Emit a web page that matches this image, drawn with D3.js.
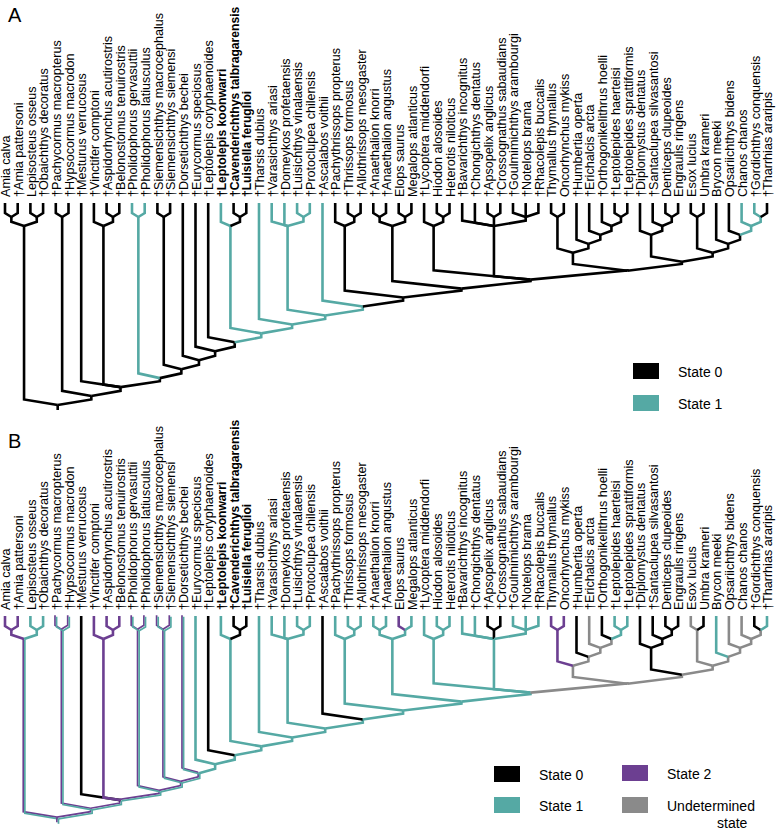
<!DOCTYPE html>
<html><head><meta charset="utf-8">
<script src="https://cdn.jsdelivr.net/npm/d3@7"></script>
<style>body{margin:0;background:#fff}svg{display:block}</style>
</head><body><svg id="c" width="778" height="830"></svg>
<script>
// ---------------- DATA ----------------
const taxa = [
  "Amia calva","†Amia pattersoni","Lepisosteus osseus","†Obaichthys decoratus",
  "†Pachycormus macropterus","†Hypsocormus macrodon","†Mesturus verrucosus","†Vinctifer comptoni",
  "†Aspidorhynchus acutirostris","†Belonostomus tenuirostris","†Pholidophorus gervasuttii","†Pholidophorus latiusculus",
  "†Siemensichthys macrocephalus","†Siemensichthys siemensi","†Dorsetichthys bechei","†Eurycormus speciosus",
  "†Leptolepis coryphaenoides","†Leptolepis koonwarri","†Cavenderichthys talbragarensis","†Luisiella feruglioi",
  "†Tharsis dubius","†Varasichthys ariasi","†Domeykos profetaensis","†Luisichthys vinalaensis",
  "†Protoclupea chilensis","†Ascalabos voithii","†Pachythrissops propterus","†Thrissops formosus",
  "†Allothrissops mesogaster","†Anaethalion knorri","†Anaethalion angustus","Elops saurus",
  "Megalops atlanticus","†Lycoptera middendorfi","Hiodon alosoides","Heterotis niloticus",
  "†Bavarichthys incognitus","†Chongichthys dentatus","†Apsopelix anglicus","†Crossognathus sabaudians",
  "†Goulmimichthys arambourgi","†Notelops brama","†Rhacolepis buccalis","Thymallus thymallus",
  "Oncorhynchus mykiss","†Humbertia operta","†Erichalcis arcta","†Orthogonikelithrus hoelli",
  "†Leptolepides haerteisi","†Leptolepides sprattiformis","†Diplomystus dentatus","†Santaclupea silvasantosi",
  "Denticeps clupeoides","Engraulis ringens","Esox lucius","Umbra krameri",
  "Brycon meeki","Opsariichthys bidens","Chanos chanos","†Gordichthys conquensis","†Tharrhias araripis"
];
const boldTaxa = [18, 19, 20];

// topology (tip numbers, 1-based), built clade by clade
const cladeE1 = [[44,45],[46,[47,[48,[49,50]]]]];
const cladeE2 = [[51,[52,[53,54]]],[[55,56],[57,[58,[59,[60,61]]]]]];
const cladeT  = [[34,[35,36]],[37,38,[39,40],[41,42,43]],[cladeE1, cladeE2]];
const cladeU  = [[[30,31],[32,33]], cladeT];
const cladeW  = [[27,[28,29]], cladeU];
const cladeV  = [26, cladeW];
const cladeX  = [[22,23,[24,25]], cladeV];
const cladeY  = [21, cladeX];
const cladeZ  = [[18,[19,20]], cladeY];
const clade17 = [17, cladeZ];
const clade16 = [16, clade17];
const clade15 = [15, clade16];
const clade13 = [[13,14], clade15];
const clade11 = [[11,12], clade13];
const cladeM  = [7, [8,[9,10]], clade11];
const cladeP  = [[5,6], cladeM];
const treeRoot = [[[1,2],[3,4]], cladeP];

// branch states (key = first-last tip of clade); "12" = state 1 or 2, "u" = undetermined
const defaultStateA = "0";
const statesA = [
  ["11-11","1"],["12-12","1"],["11-12","1"],
  ["18-18","1"],["18-20","1"],["18-61","1"],
  ["21-21","1"],["21-61","1"],
  ["22-22","1"],["23-23","1"],["24-24","1"],["25-25","1"],["24-25","1"],["22-25","1"],["22-61","1"],
  ["26-26","1"],["26-61","1"],
  ["59-59","1"],["60-60","1"],["60-61","1"],["59-61","1"]
];
const defaultStateB = "1";
const statesB = [
  ["1-61","12"],["1-4","12"],["1-1","2"],["2-2","2"],["1-2","2"],
  ["5-5","12"],["6-6","12"],["5-6","12"],["5-61","12"],
  ["7-7","0"],["8-8","2"],["9-9","2"],["10-10","2"],["9-10","2"],["8-10","2"],["7-61","12"],
  ["11-11","12"],["12-12","12"],["11-12","12"],["11-61","12"],
  ["13-13","12"],["14-14","12"],["13-14","12"],["13-61","12"],
  ["15-15","12"],["15-61","12"],
  ["17-17","0"],["19-19","0"],["20-20","0"],["19-20","0"],
  ["26-26","0"],["32-32","2"],
  ["39-39","0"],["40-40","0"],["39-40","0"],
  ["44-61","u"],["44-50","u"],["44-44","2"],["45-45","2"],["44-45","2"],
  ["46-46","0"],["46-50","u"],["47-47","u"],["47-50","u"],["48-48","0"],["48-50","u"],
  ["51-51","0"],["52-52","0"],["53-53","0"],["54-54","0"],["53-54","0"],["52-54","0"],["51-54","0"],
  ["51-61","u"],["55-61","u"],["55-56","u"],["55-55","u"],["56-56","0"],
  ["57-61","u"],["58-58","u"],["58-61","u"],["59-59","u"],["59-61","u"],["60-61","u"],["60-60","0"]
];
const legendA = [["0","State 0"],["1","State 1"]];
const legendB = [["0","State 0"],["1","State 1"],["2","State 2"],["u","Undetermined|state"]];

// ---------------- DRAWING ----------------
const svg = d3.select("#c");
const font = "'Liberation Sans', Arial, Helvetica, sans-serif";
const colors = {"0":"#000000","1":"#55a9a4","2":"#6c3f91","u":"#8a8a8a"};
const LW = 2.6;

const xScale = d3.scalePoint().domain(taxa).range([5, 767]);

const root = d3.hierarchy(treeRoot, d => Array.isArray(d) ? d : null);
root.eachAfter(n => {
  if (!n.children) { n.lo = n.hi = n.data; n.px = xScale(taxa[n.data - 1]); }
  else {
    const f = n.children[0], l = n.children[n.children.length - 1];
    n.lo = f.lo; n.hi = l.hi; n.px = (f.px + l.px) / 2;
  }
  n.key = n.lo + "-" + n.hi;
});

function drawSeg(g, d, st) {
  if (st === "12") {
    g.append("path").attr("d", d).attr("fill","none").attr("stroke", colors["2"])
      .attr("stroke-width", 1.7).attr("transform","translate(-0.8,-0.8)");
    g.append("path").attr("d", d).attr("fill","none").attr("stroke", colors["1"])
      .attr("stroke-width", 1.7).attr("transform","translate(0.8,0.8)");
  } else {
    g.append("path").attr("d", d).attr("fill","none").attr("stroke", colors[st])
      .attr("stroke-width", LW);
  }
}

function drawPanel(cfg) {
  const g = svg.append("g");
  const yS = d3.scaleLinear().domain([1, 22]).range([217 + cfg.dy, 405 + cfg.dy]);
  const tipTop = 203 + cfg.dy;
  const stMap = new Map(cfg.states);
  root.each(n => { n.py = n.children ? yS(n.height) : tipTop; });
  const lines = g.append("g").attr("stroke-linejoin","miter").attr("stroke-linecap","butt");
  root.descendants().forEach(c => {
    if (!c.parent) return;
    const p = c.parent;
    const dx = c.px - p.px;
    const same = p.children.filter(k => Math.sign(k.px - p.px) === Math.sign(dx));
    const maxDx = d3.max(same, k => Math.abs(k.px - p.px));
    const sOut = 3.5 + 0.06 * maxDx;
    const bend = maxDx > 0 ? p.py - sOut * Math.abs(dx) / maxDx : p.py;
    const path = d3.path();
    path.moveTo(c.px, c.py); path.lineTo(c.px, bend); path.lineTo(p.px, p.py);
    drawSeg(lines, path.toString(), stMap.get(c.key) || cfg.def);
  });
  const rp = d3.path(); rp.moveTo(root.px, root.py); rp.lineTo(root.px, root.py + 5);
  drawSeg(lines, rp.toString(), stMap.get(root.key) || cfg.def);

  // tip labels
  g.append("g").selectAll("text").data(taxa).join("text")
    .attr("transform", d => `translate(${xScale(d)},${197 + cfg.dy}) rotate(-90)`)
    .attr("dy", "0.42em")
    .attr("font-family", font)
    .attr("font-size", (d, i) => boldTaxa.includes(i + 1) ? 12.1 : 12.6)
    .attr("font-weight", (d, i) => boldTaxa.includes(i + 1) ? "bold" : "normal")
    .attr("fill", "#000")
    .text(d => d);

  // panel letter
  g.append("text").attr("x", 8).attr("y", cfg.letterY).attr("font-family", font)
    .attr("font-size", 20).text(cfg.letter);

  // legend
  cfg.legend.forEach((it, i) => {
    const pos = cfg.legendPos[i];
    g.append("rect").attr("x", pos[0]).attr("y", pos[1]).attr("width", 26).attr("height", 16)
      .attr("fill", colors[it[0]]);
    const parts = it[1].split("|");
    g.append("text").attr("x", pos[0] + 45).attr("y", pos[1] + 14)
      .attr("font-family", font).attr("font-size", 14).text(parts[0]);
    if (parts[1]) g.append("text").attr("x", pos[0] + 95).attr("y", pos[1] + 31)
      .attr("font-family", font).attr("font-size", 14).text(parts[1]);
  });
}

drawPanel({dy: 0, states: statesA, def: defaultStateA, letter: "A", letterY: 22,
  legend: legendA, legendPos: [[633, 363], [633, 395]]});
drawPanel({dy: 413, states: statesB, def: defaultStateB, letter: "B", letterY: 448,
  legend: legendB, legendPos: [[494, 766], [494, 797], [622, 765], [622, 797]]});
</script></body></html>
